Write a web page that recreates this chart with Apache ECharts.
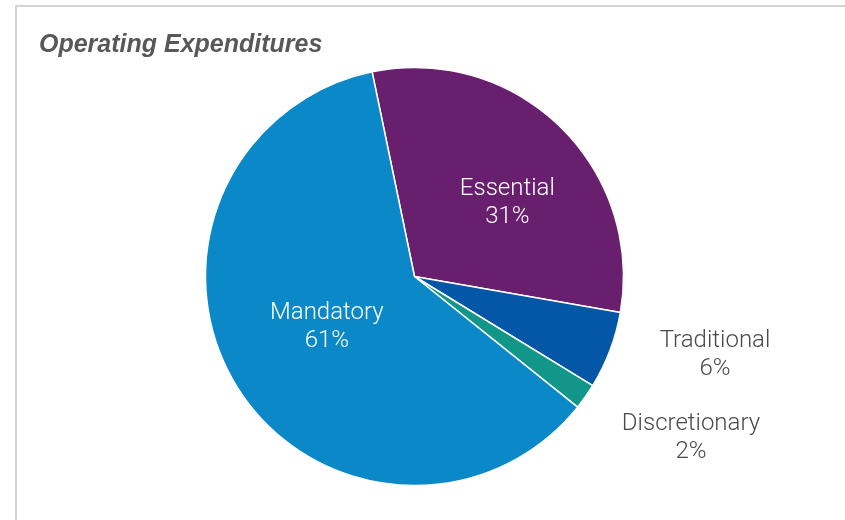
<!DOCTYPE html>
<html>
<head>
<meta charset="utf-8">
<script src="https://cdn.jsdelivr.net/npm/echarts@6/dist/echarts.min.js"></script>
<style>
  html, body { margin: 0; padding: 0; background: #fff; }
  #frame {
    position: absolute; left: 15px; top: 5px; right: 0; bottom: 0;
    border-top: 2px solid #d4d4d4; border-left: 2px solid #d4d4d4;
  }
  #chart { position: absolute; left: 0; top: 0; width: 845px; height: 520px; }
</style>
</head>
<body>
<div id="frame"></div>
<div id="chart"></div>
<script>
// Operating expenditure shares (percent)
const categories = ['Essential', 'Traditional', 'Discretionary', 'Mandatory'];
const shares = [31, 6, 2, 61];
const colors = ['#68206e', '#0456a6', '#12968a', '#0a88c8'];
const insideLabels = ['Essential', 'Mandatory'];

// Nudges for the labels drawn on the slices, and placement of the ones beside the pie
const insideNudge = { Essential: [18, 4], Mandatory: [4, -6] };
const outsidePlace = { Traditional: [715, 355], Discretionary: [691, 438] };

const chart = echarts.init(document.getElementById('chart'), null, { renderer: 'canvas' });

const data = categories.map((name, i) => {
  const inside = insideLabels.includes(name);
  return {
    name,
    value: shares[i],
    itemStyle: { color: colors[i] },
    label: inside
      ? { position: 'inside', color: '#ffffff' }
      : { position: 'outside', color: '#4a4a4a' },
    labelLine: { show: false }
  };
});

chart.setOption({
  animation: false,
  title: {
    text: 'Operating Expenditures',
    left: 34,
    top: 28,
    textStyle: {
      fontFamily: 'Liberation Sans',
      fontStyle: 'italic',
      fontWeight: 'bold',
      fontSize: 25,
      color: '#585858'
    }
  },
  series: [{
    type: 'pie',
    center: [414.5, 276.5],
    radius: 209,
    startAngle: 101.7,
    clockwise: true,
    avoidLabelOverlap: false,
    itemStyle: { borderColor: '#ffffff', borderWidth: 1.5 },
    label: {
      formatter: '{b}\n{c}%',
      fontFamily: 'Roboto',
      fontWeight: 300,
      fontSize: 24,
      lineHeight: 28,
      align: 'center'
    },
    labelLine: { show: false },
    labelLayout: function (p) {
      const name = categories[p.dataIndex];
      if (outsidePlace[name]) {
        const [x, y] = outsidePlace[name];
        return { x, y, align: 'center', verticalAlign: 'middle' };
      }
      if (insideNudge[name]) {
        const [dx, dy] = insideNudge[name];
        return { dx, dy };
      }
      return {};
    },
    data
  }]
});
</script>
</body>
</html>
